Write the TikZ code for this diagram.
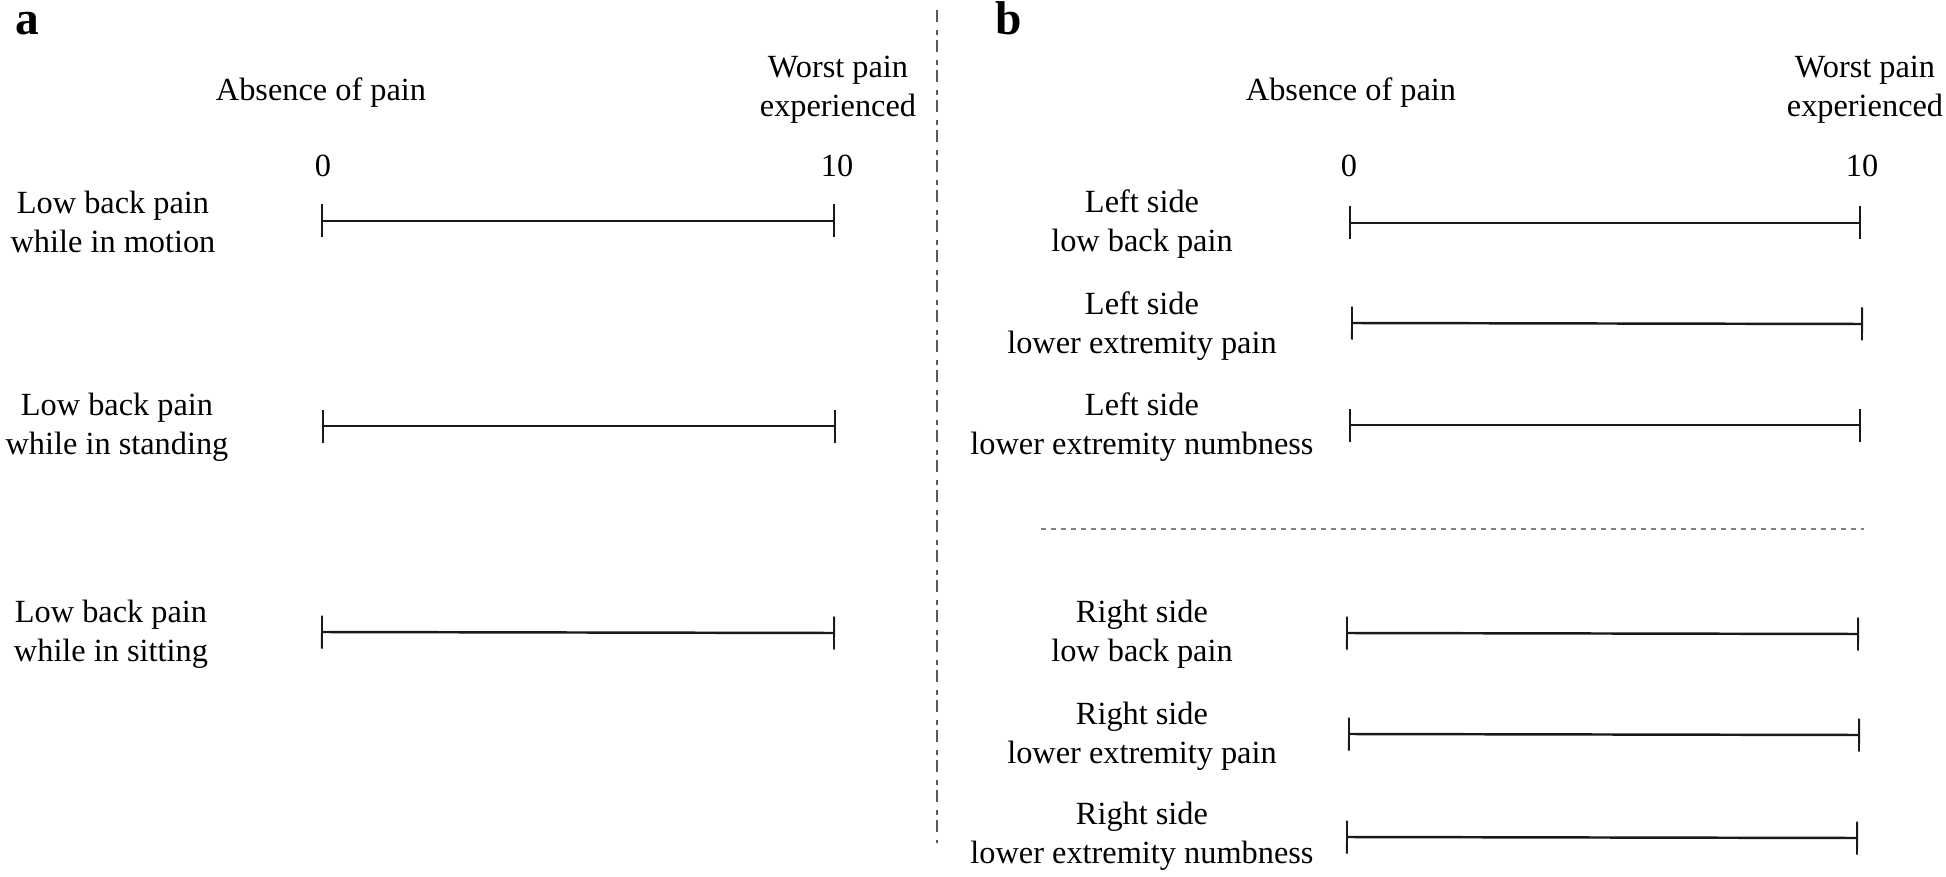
\documentclass[tikz,border=0pt]{standalone}
\usepackage{fontspec}
\setmainfont{Liberation Serif}
\usetikzlibrary{arrows.meta}

\begin{document}
\begin{tikzpicture}[x=0.1mm,y=-0.1mm,
    txt/.style={align=center, inner sep=0pt, font=\fontsize{9.2}{11}\selectfont},
    panel/.style={anchor=base west, inner sep=0pt, font=\fontsize{13.5}{15}\selectfont\bfseries},
    vas/.style={line width=0.7pt, draw=black!90,
        {Bar[width=3.3mm,line width=0.55pt]}-{Bar[width=3.3mm,line width=0.55pt]}},
    divider/.style={black!65, line width=0.6pt, dash pattern=on 1.2mm off 0.8mm on 0.5mm off 0.5mm},
    separator/.style={gray, line width=0.5pt, dash pattern=on 0.5mm off 0.5mm}]
    \useasboundingbox (0,0) rectangle (1946,877);

    % panel a
    \node[panel] (pa) at (15,35) {a};
    \node[txt] (absA) at (321,93) {Absence of pain};
    \node[txt] (worstA) at (838,90) {Worst pain\\experienced};
    \node[txt] (zeroA) at (323,166) {0};
    \node[txt] (tenA) at (837,166) {10};

    \node[txt] (motion) at (113,222) {Low back pain\\while in motion};
    \node[txt] (standing) at (117,427) {Low back pain\\while in standing};
    \node[txt] (sitting) at (111,634) {Low back pain\\while in sitting};

    \coordinate (motionL) at (321,221);
    \coordinate (motionR) at (835,221);
    \coordinate (standingL) at (322,426);
    \coordinate (standingR) at (836,426);
    \coordinate (sittingL) at (321,632);
    \coordinate (sittingR) at (835,633);
    \draw[vas] (motionL) -- (motionR);
    \draw[vas] (standingL) -- (standingR);
    \draw[vas] (sittingL) -- (sittingR);

    \coordinate (divtop) at (937,10);
    \coordinate (divbot) at (937,843);
    \draw[divider] (divtop) -- (divbot);

    % panel b
    \node[panel] (pb) at (995,35) {b};
    \node[txt] (absB) at (1351,93) {Absence of pain};
    \node[txt] (worstB) at (1865,90) {Worst pain\\experienced};
    \node[txt] (zeroB) at (1349,166) {0};
    \node[txt] (tenB) at (1862,166) {10};

    \node[txt] (leftlbp) at (1142,224) {Left side\\low back pain};
    \node[txt] (leftlep) at (1142,326) {Left side\\lower extremity pain};
    \node[txt] (leftlen) at (1142,427) {Left side\\lower extremity numbness};
    \node[txt] (rightlbp) at (1142,634) {Right side\\low back pain};
    \node[txt] (rightlep) at (1142,736) {Right side\\lower extremity pain};
    \node[txt] (rightlen) at (1142,836) {Right side\\lower extremity numbness};

    \coordinate (leftlbpL) at (1349,223);
    \coordinate (leftlbpR) at (1861,223);
    \coordinate (leftlepL) at (1351,323);
    \coordinate (leftlepR) at (1863,324);
    \coordinate (leftlenL) at (1349,425);
    \coordinate (leftlenR) at (1861,425);
    \coordinate (rightlbpL) at (1346,633);
    \coordinate (rightlbpR) at (1859,634);
    \coordinate (rightlepL) at (1348,734);
    \coordinate (rightlepR) at (1860,735);
    \coordinate (rightlenL) at (1346,837);
    \coordinate (rightlenR) at (1858,838);
    \draw[vas] (leftlbpL) -- (leftlbpR);
    \draw[vas] (leftlepL) -- (leftlepR);
    \draw[vas] (leftlenL) -- (leftlenR);
    \draw[vas] (rightlbpL) -- (rightlbpR);
    \draw[vas] (rightlepL) -- (rightlepR);
    \draw[vas] (rightlenL) -- (rightlenR);

    \coordinate (sepL) at (1041,529);
    \coordinate (sepR) at (1864,529);
    \draw[separator] (sepL) -- (sepR);
\end{tikzpicture}
\end{document}
